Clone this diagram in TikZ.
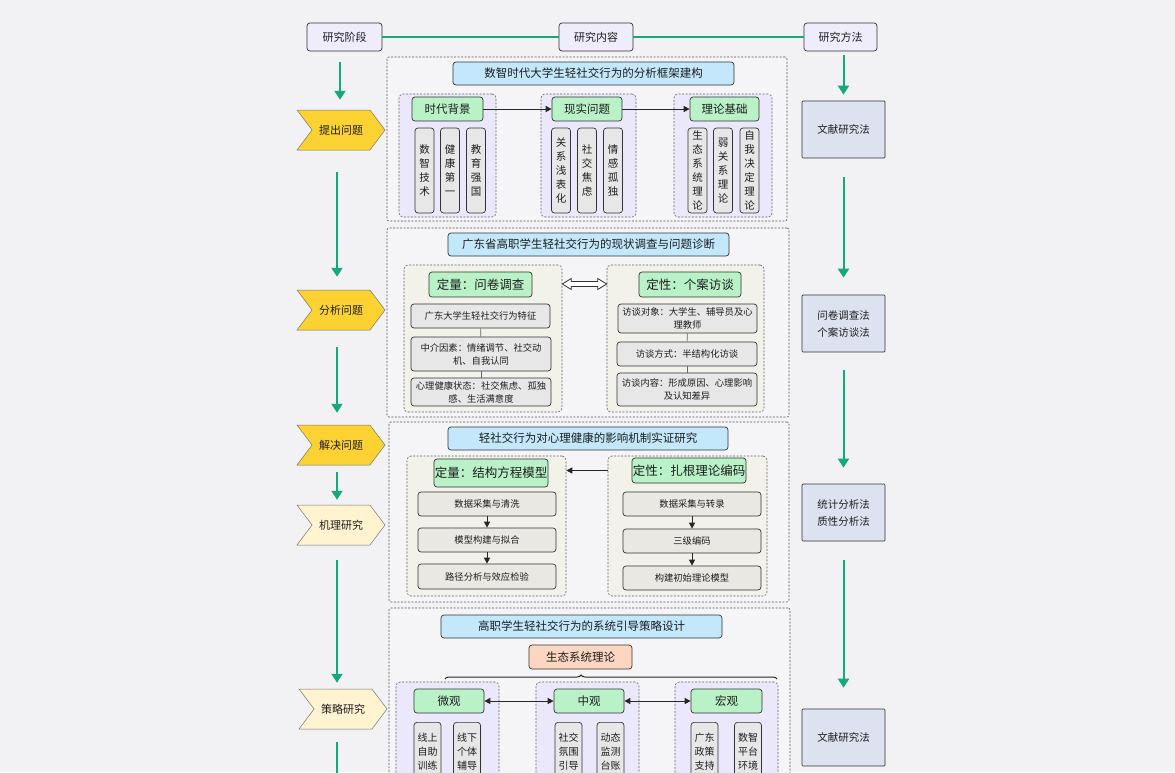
\documentclass[tikz,border=0pt]{standalone}
\usepackage{fontspec}
\setmainfont{Noto Sans CJK SC}
\usetikzlibrary{shapes.symbols,arrows.meta,decorations.pathreplacing,calc}
\definecolor{bg}{HTML}{F2F2F4}
\definecolor{garrow}{HTML}{13A97B}
\definecolor{hdrfill}{HTML}{EFECFB}
\definecolor{yel}{HTML}{FCD232}
\definecolor{lyel}{HTML}{FFF3D0}
\definecolor{mfill}{HTML}{DCE2EF}
\definecolor{secfill}{HTML}{F5F5F7}
\definecolor{tfill}{HTML}{C3E7FB}
\definecolor{pfill}{HTML}{ECE8FB}
\definecolor{bfill}{HTML}{F2F1EA}
\definecolor{gfill}{HTML}{B9F2C7}
\definecolor{ifill}{HTML}{E7E7E7}
\definecolor{ithree}{HTML}{E9E8E2}
\definecolor{peach}{HTML}{FBD6C0}
\definecolor{bordc}{HTML}{333333}
\definecolor{txt}{HTML}{1E1E1E}
\begin{document}
\begin{tikzpicture}[x=1pt,y=-1pt,
  every node/.style={text=txt, inner sep=0pt, align=center},
  sz/.style 2 args={minimum width=#1pt, minimum height=#2pt},
  box/.style={draw=bordc, line width=0.7pt, rounded corners=3pt},
  hdr/.style={box, fill=hdrfill, font=\fontsize{11}{13}\selectfont},
  chev/.style={signal, signal to=east, signal from=west, signal pointer angle=106,
     draw=black!55, line width=0.5pt, minimum width=88pt, minimum height=40pt,
     font=\fontsize{11}{13}\selectfont},
  meth/.style={draw=bordc, line width=0.7pt, rounded corners=1pt, fill=mfill,
     minimum width=83pt, minimum height=57pt, font=\fontsize{10.5}{17}\selectfont},
  sec/.style={draw=black!65, dash pattern=on 2pt off 1.5pt, line width=0.6pt, fill=secfill, rounded corners=2pt},
  grp/.style={draw=black!60, dash pattern=on 2pt off 1.5pt, line width=0.6pt, rounded corners=4pt},
  ttl/.style={box, fill=tfill, font=\fontsize{11.5}{13}\selectfont},
  ghd/.style={box, fill=gfill, font=\fontsize{11.5}{13}\selectfont},
  ghdb/.style={box, fill=gfill, font=\fontsize{12.5}{14}\selectfont},
  vbox/.style={box, fill=ifill, minimum width=19pt, minimum height=85pt, font=\fontsize{10.5}{14}\selectfont},
  vboxb/.style={box, fill=ifill, minimum width=27pt, minimum height=80pt, anchor=north},
  vtext/.style={anchor=north, font=\fontsize{10}{14}\selectfont},
  item/.style={box, fill=ifill, minimum width=139pt, font=\fontsize{9.3}{13}\selectfont},
  itemc/.style={box, fill=ithree, minimum width=138pt, minimum height=24pt, font=\fontsize{9.3}{12}\selectfont},
  garr/.style={draw=garrow, line width=2pt, -{Triangle[width=11pt,length=9pt]}},
  gline/.style={draw=garrow, line width=1.2pt},
  barr/.style={draw=black!85, line width=0.9pt, -{Triangle[width=6pt,length=6pt]}},
  bbarr/.style={draw=black!85, line width=0.9pt, {Triangle[width=6pt,length=6pt]}-{Triangle[width=6pt,length=6pt]}},
  thin/.style={draw=black!60, line width=0.6pt}
]
\useasboundingbox (0,0) rectangle (1175,772);
\fill[bg] (0,0) rectangle (1175,772);
\clip (0,0) rectangle (1175,772);

% ---------- header ----------
\node[hdr, sz={75}{28}] (hA) at (344.5,37) {研究阶段};
\node[hdr, sz={74}{28}] (hB) at (596,37) {研究内容};
\node[hdr, sz={73}{28}] (hC) at (840.5,37) {研究方法};
\draw[gline] (hA) -- (hB);
\draw[gline] (hB) -- (hC);

% ---------- sections & groups ----------
\node[sec, sz={400}{164}] (s1) at (587,139) {};
\node[sec, sz={402}{189}] (s2) at (588,322.5) {};
\node[sec, sz={400}{180}] (s3) at (589,512) {};
\node[sec, sz={401}{192}] (s4) at (589.5,704) {};

\node[grp, fill=pfill, sz={97}{123}] (g11) at (447.5,155.5) {};
\node[grp, fill=pfill, sz={95}{123}] (g12) at (588.5,155.5) {};
\node[grp, fill=pfill, sz={98}{123}] (g13) at (723,155.5) {};

\node[grp, fill=bfill, sz={158}{147}] (g21) at (483,338.5) {};
\node[grp, fill=bfill, sz={157}{147}] (g22) at (685.5,338.5) {};

\node[grp, fill=bfill, sz={159}{140}] (g31) at (486.5,526) {};
\node[grp, fill=bfill, sz={159}{140}] (g32) at (687.5,526) {};

\node[grp, fill=pfill, sz={103}{118}] (g41) at (447.5,741) {};
\node[grp, fill=pfill, sz={103}{118}] (g42) at (587.5,741) {};
\node[grp, fill=pfill, sz={103}{118}] (g43) at (726.5,741) {};

% ---------- left column ----------
\node[chev, fill=yel] (c1) at (341,130) {提出问题};
\node[chev, fill=yel] (c2) at (341,310) {分析问题};
\node[chev, fill=yel] (c3) at (341,445) {解决问题};
\node[chev, fill=lyel] (c4) at (341,525) {机理研究};
\node[chev, fill=lyel] (c5) at (343,709) {策略研究};
\coordinate (lend) at (337,800);
\draw[garr, shorten <=11pt, shorten >=10pt] ([xshift=-1pt]c1.north |- hA.south) -- ([xshift=-1pt]c1.north);
\draw[garr, shorten <=22pt, shorten >=13pt] ([xshift=-4pt]c1.south) -- ([xshift=-4pt]c2.north);
\draw[garr, shorten <=17pt, shorten >=12pt] ([xshift=-4pt]c2.south) -- ([xshift=-4pt]c3.north);
\draw[garr, shorten <=7pt, shorten >=5pt] ([xshift=-4pt]c3.south) -- ([xshift=-4pt]c4.north);
\draw[garr, shorten <=15pt, shorten >=6pt] ([xshift=-4pt]c4.south) -- ([xshift=-6pt]c5.north);
\draw[draw=garrow, line width=2pt, shorten <=13pt] ([xshift=-6pt]c5.south) -- (lend);

% ---------- right column ----------
\node[meth] (m1) at (843.5,129.5) {文献研究法};
\node[meth] (m2) at (843.5,323.5) {问卷调查法\\个案访谈法};
\node[meth] (m3) at (843.5,512.5) {统计分析法\\质性分析法};
\node[meth] (m4) at (843.5,737.5) {文献研究法};
\draw[garr, shorten <=4pt, shorten >=6pt] (m1.north |- hC.south) -- (m1.north);
\draw[garr, shorten <=19pt, shorten >=17pt] (m1.south) -- (m2.north);
\draw[garr, shorten <=18pt, shorten >=16pt] (m2.south) -- (m3.north);
\draw[garr, shorten <=19pt, shorten >=21pt] (m3.south) -- (m4.north);

% ---------- section 1 ----------
\node[ttl, sz={281}{23}] (t1) at (593.5,73.5) {数智时代大学生轻社交行为的分析框架建构};
\node[ghd, sz={71}{24}] (h11) at (447.5,109) {时代背景};
\node[ghd, sz={70}{24}] (h12) at (587,109) {现实问题};
\node[ghd, sz={69}{24}] (h13) at (724.5,109) {理论基础};
\draw[barr] (h11) -- (h12);
\draw[barr] (h12) -- (h13);
\node[vbox] (v111) at (424.5,170.5) {数\\智\\技\\术};
\node[vbox] (v112) at (450,170.5) {健\\康\\第\\一};
\node[vbox] (v113) at (476,170.5) {教\\育\\强\\国};
\node[vbox] (v121) at (561,170.5) {关\\系\\浅\\表\\化};
\node[vbox] (v122) at (587,170.5) {社\\交\\焦\\虑};
\node[vbox] (v123) at (613,170.5) {情\\感\\孤\\独};
\node[vbox] (v131) at (697.5,170.5) {生\\态\\系\\统\\理\\论};
\node[vbox] (v132) at (723,170.5) {弱\\关\\系\\理\\论};
\node[vbox] (v133) at (749.5,170.5) {自\\我\\决\\定\\理\\论};

% ---------- section 2 ----------
\node[ttl, sz={281}{23}] (t2) at (588.5,244.5) {广东省高职学生轻社交行为的现状调查与问题诊断};
\node[ghdb, sz={103}{25}] (h21) at (480.5,284.5) {定量：问卷调查};
\node[ghdb, sz={102}{25}] (h22) at (690,284.5) {定性：个案访谈};
\node[item, minimum height=24pt] (i211) at (480.5,316) {广东大学生轻社交行为特征};
\node[item, minimum width=140pt, minimum height=34pt] (i212) at (481,354) {中介因素：情绪调节、社交动\\机、自我认同};
\node[item, minimum width=140pt, minimum height=28pt] (i213) at (481,392) {心理健康状态：社交焦虑、孤独\\感、生活满意度};
\node[item, minimum height=29pt] (i221) at (687.5,318.5) {访谈对象：大学生、辅导员及心\\理教师};
\node[item, minimum width=140pt, minimum height=24pt] (i222) at (687,354) {访谈方式：半结构化访谈};
\node[item, minimum width=140pt, minimum height=33pt] (i223) at (687,389.5) {访谈内容：形成原因、心理影响\\及认知差异};
\draw[thin] (i211) -- (i212);
\draw[thin] (i212) -- (i213);
\draw[thin] (i221) -- (i222);
\draw[thin] (i222) -- (i223);
% hollow double block arrow between the two groups
\coordinate (da) at ([yshift=0.5pt]g21.east |- h21);
\coordinate (db) at ([yshift=0.5pt]g22.west |- h21);
\draw[fill=white, draw=bordc, line width=0.8pt, line join=miter]
  (da) -- ++(9,-5.5) -- ++(0,3) -- ($(db)+(-9,-2.5)$) -- ++(0,-3) -- (db)
  -- ++(-9,5.5) -- ++(0,-3) -- ($(da)+(9,2.5)$) -- ++(0,3) -- cycle;

% ---------- section 3 ----------
\node[ttl, sz={280}{23}] (t3) at (588,438.5) {轻社交行为对心理健康的影响机制实证研究};
\node[ghdb, sz={114}{28}] (h31) at (491,473) {定量：结构方程模型};
\node[ghdb, sz={114}{25}] (h32) at (689,470.5) {定性：扎根理论编码};
\draw[barr] (h32 -| g32.west) -- (h32 -| g31.east);
\node[itemc] (i311) at (487,504) {数据采集与清洗};
\node[itemc] (i312) at (487,540) {模型构建与拟合};
\node[itemc, minimum height=25pt] (i313) at (487,576.5) {路径分析与效应检验};
\node[itemc] (i321) at (692,504) {数据采集与转录};
\node[itemc] (i322) at (692,541) {三级编码};
\node[itemc] (i323) at (692,578) {构建初始理论模型};
\draw[barr] (i311) -- (i312);
\draw[barr] (i312) -- (i313);
\draw[barr] (i321) -- (i322);
\draw[barr] (i322) -- (i323);

% ---------- section 4 ----------
\node[ttl, sz={281}{23}] (t4) at (581.5,626.5) {高职学生轻社交行为的系统引导策略设计};
\node[box, fill=peach, sz={103}{24}, font=\fontsize{11.5}{13}\selectfont] (eco) at (580.5,657) {生态系统理论};
\coordinate (brL) at (445,679);
\coordinate (brR) at (777,679);
\draw[draw=black!85, line width=1pt, decorate, decoration={brace, amplitude=4pt, aspect=0.41}] (brL) -- (brR);
\node[ghd, sz={70}{24}] (h41) at (449,701) {微观};
\node[ghd, sz={70}{24}] (h42) at (589,701) {中观};
\node[ghd, sz={71}{24}] (h43) at (726.5,701) {宏观};
\draw[bbarr] (h41) -- (h42);
\draw[bbarr] (h42) -- (h43);
\node[vboxb] (v411) at (427.5,722) {};
\node[vboxb] (v412) at (467,722) {};
\node[vboxb] (v421) at (568.5,722) {};
\node[vboxb] (v422) at (610.5,722) {};
\node[vboxb] (v431) at (704.5,722) {};
\node[vboxb] (v432) at (748,722) {};
\node[vtext] at ([yshift=-11pt]v411.north) {线上\\自助\\训练};
\node[vtext] at ([yshift=-11pt]v412.north) {线下\\个体\\辅导};
\node[vtext] at ([yshift=-11pt]v421.north) {社交\\氛围\\引导};
\node[vtext] at ([yshift=-11pt]v422.north) {动态\\监测\\台账};
\node[vtext] at ([yshift=-11pt]v431.north) {广东\\政策\\支持};
\node[vtext] at ([yshift=-11pt]v432.north) {数智\\平台\\环境};
\end{tikzpicture}
\end{document}
